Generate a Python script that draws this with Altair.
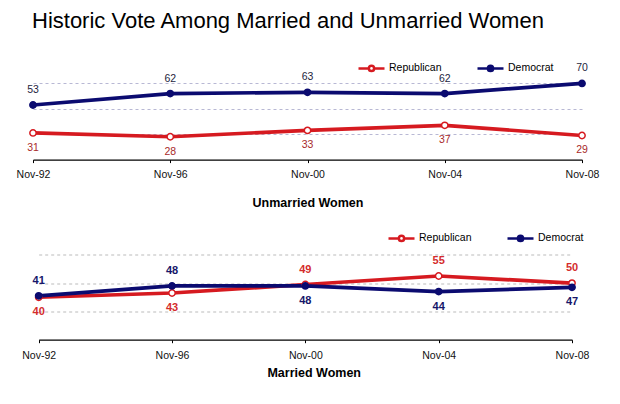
import altair as alt
import pandas as pd

# ---- data ----
dates = ["Nov-92", "Nov-96", "Nov-00", "Nov-04", "Nov-08"]
parties = ["Republican", "Democrat"]
unmarried_rep = [31, 28, 33, 37, 29]
unmarried_dem = [53, 62, 63, 62, 70]
married_rep = [40, 43, 49, 55, 50]
married_dem = [41, 48, 48, 44, 47]

RED = "#d61a20"
NAVY = "#0b0b70"
FONT = "Liberation Sans"


def build_df(rep, dem):
    rows = []
    for d, r, m in zip(dates, rep, dem):
        rows.append({"date": d, "party": "Republican", "value": r, "above": r >= m})
        rows.append({"date": d, "party": "Democrat", "value": m, "above": m > r})
    return pd.DataFrame(rows)


SYMBOL = ("M-1,0H-0.2M0.2,0H1M-0.2,0A0.2,0.2 0 1,0 0.2,0"
          "A0.2,0.2 0 1,0 -0.2,0Z")


def panel(df, title, width, xrange, legend_x, legend_y, lab_size, lab_weight,
          dem_lab_col, rep_lab_col, grid_col, label_pad, title_pad, title_x,
          height, off):
    xscale = alt.Scale(type="point", padding=0, range=xrange) if xrange else \
        alt.Scale(type="point", padding=0)
    xaxis = dict(labelAngle=0, tickSize=3, labelPadding=label_pad,
                 labelFontSize=10.5, labelFont=FONT, labelColor="#111",
                 domainColor="black", tickColor="black", domainWidth=1.2,
                 title=title, titleFont=FONT, titleFontSize=12.5,
                 titleFontWeight="bold", titleColor="black",
                 titlePadding=title_pad, grid=False)
    if title_x is not None:
        xaxis["titleX"] = title_x
    x = alt.X("date:O", sort=dates, scale=xscale, axis=alt.Axis(**xaxis))
    y = alt.Y("value:Q", scale=alt.Scale(domain=[10, 90]),
              axis=alt.Axis(values=[30, 50, 70], labels=False, ticks=False,
                            domain=False, title=None, grid=True,
                            gridDash=[3, 3], gridColor=grid_col,
                            gridWidth=1))
    base = alt.Chart(df).encode(x=x, y=y)
    stroke_scale = alt.Scale(domain=parties, range=[RED, NAVY])
    fill_scale = alt.Scale(domain=parties, range=["white", NAVY])
    leg = alt.Legend(title=None, orient="none", legendX=legend_x,
                     legendY=legend_y, direction="horizontal",
                     symbolType=SYMBOL, symbolSize=676,
                     symbolStrokeWidth=2.5, symbolFillColor="white",
                     labelFontSize=10.5, labelFont=FONT,
                     labelColor="black", labelOffset=3, columnPadding=30)
    lines = [
        base.transform_filter(f"datum.party == '{p}'").mark_line(
            strokeWidth=3.7).encode(
            color=alt.Color("party:N", scale=stroke_scale, legend=leg))
        for p in parties
    ]
    points = base.mark_point(size=40, strokeWidth=1.5, opacity=1).encode(
        stroke=alt.Stroke("party:N", scale=stroke_scale, legend=None),
        fill=alt.Fill("party:N", scale=fill_scale, legend=None),
    )
    col = alt.condition("datum.party == 'Democrat'", alt.value(dem_lab_col),
                        alt.value(rep_lab_col))
    up = base.transform_filter("datum.above").mark_text(
        dy=-off, fontSize=lab_size, fontWeight=lab_weight, font=FONT,
        baseline="middle").encode(text="value:Q", color=col)
    down = base.transform_filter("!datum.above").mark_text(
        dy=off, fontSize=lab_size, fontWeight=lab_weight, font=FONT,
        baseline="middle").encode(text="value:Q", color=col)
    return alt.layer(*lines, points, up, down).properties(
        width=width, height=height)


top = panel(build_df(unmarried_rep, unmarried_dem), "Unmarried Women",
            549, None, 324, -4.5, 10.5, "normal", "#1e1e40", "#a82a2a",
            "#b8b8d4", 6.5, 17, None, 101.6, 15)
bottom = panel(build_df(married_rep, married_dem), "Married Women",
               539, [5.7, 539], 354, -3, 11, "bold", "#16166a", "#d42c2c",
               "#bbbbbb", 7.5, 6, 280.7, 113.2, 15)

chart = alt.vconcat(top, bottom, spacing=66.5, bounds="flush").resolve_scale(
    color="independent", stroke="independent", fill="independent"
).properties(
    title=alt.Title("Historic Vote Among Married and Unmarried Women",
                    anchor="start", frame="group", fontSize=22, font=FONT,
                    fontWeight="normal", color="black", offset=20.5, dx=-1),
    padding={"left": 8, "top": 2, "right": 5, "bottom": 5},
    background="white",
).configure_view(stroke=None)

chart.save("out.html", embed_options={"renderer": "svg", "actions": False})
